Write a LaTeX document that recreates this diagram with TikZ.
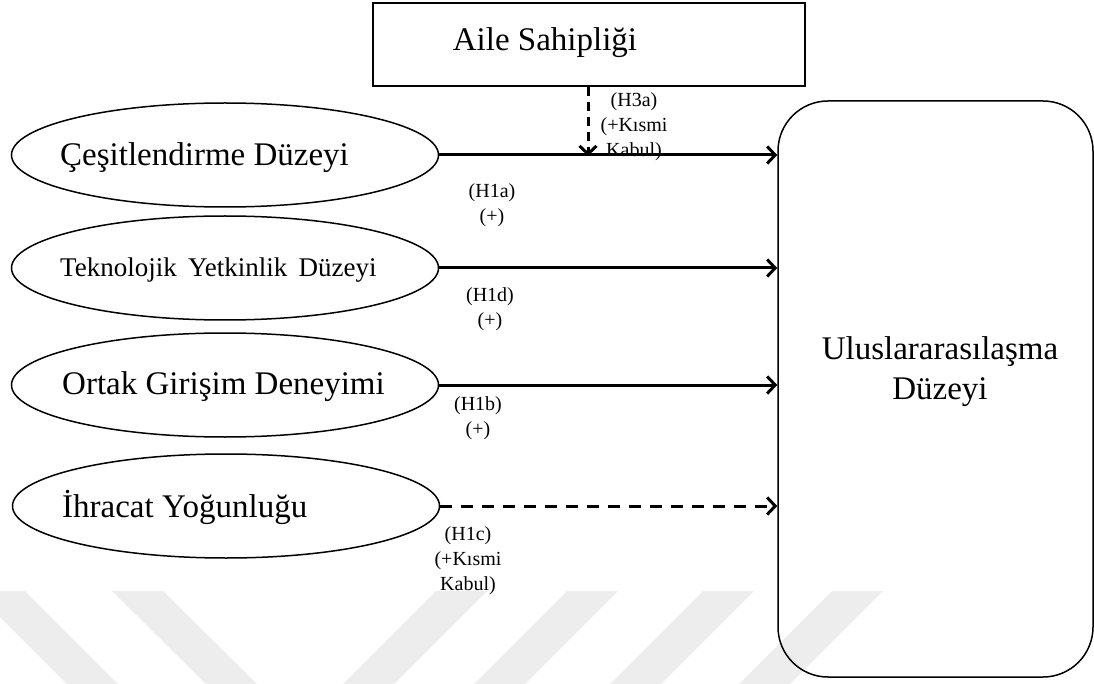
\documentclass[tikz,border=0pt]{standalone}
\usepackage{fontspec}
\setmainfont{Liberation Serif}
\usetikzlibrary{shapes.geometric,arrows.meta}

\begin{document}
\begin{tikzpicture}[x=1pt,y=-1pt,
  oval/.style={ellipse, draw, line width=1.5pt, minimum width=427pt, minimum height=104pt, inner sep=0pt},
  frame/.style={draw, line width=1.5pt, minimum width=432pt, minimum height=83pt, inner sep=0pt},
  big/.style={font=\fontsize{33}{40}\selectfont, inner sep=0pt},
  hyp/.style={align=center, font=\fontsize{20}{25}\selectfont, inner sep=0pt},
  link/.style={line width=3pt, -{Straight Barb[length=8pt,width=17pt]}},
  weak/.style={link, dash pattern=on 12pt off 9pt}]
\definecolor{stripe}{gray}{0.93}
\useasboundingbox (0,0) rectangle (1094,684);

% faint watermark
\begin{scope}
  \clip (0,0) rectangle (1094,684);
  \fill[stripe] (-26,591) -- (25,591) -- (118,684) -- (67,684) -- cycle;
  \fill[stripe] (112,591) -- (163,591) -- (257,684) -- (206,684) -- cycle;
  \foreach \x in {436,567,703,832}
    \fill[stripe] (\x,591) -- (\x+51,591) -- (\x-42,684) -- (\x-93,684) -- cycle;
\end{scope}

\node[frame] (aile) at (589,44.5) {};
\node[big] (ailetxt) at (545,43) {Aile Sahipliği};

\node[oval] (cesit) at (225,155) {};
\node[oval] (tekno) at (225,268) {};
\node[oval] (ortak) at (225,385) {};
\node[oval] (ihracat) at (226,506) {};
\node[big, anchor=west] (cesittxt) at (60,158) {Çeşitlendirme Düzeyi};
\node[big, anchor=west, font=\fontsize{27}{32}\selectfont] (teknotxt) at (60,270) {Teknolojik\, Yetkinlik\, Düzeyi};
\node[big, anchor=west] (ortaktxt) at (62,387) {Ortak Girişim Deneyimi};
\node[big, anchor=west] (ihracattxt) at (62,507) {İhracat Yoğunluğu};

\node[draw, line width=1.5pt, rounded corners=50pt, minimum width=315pt, minimum height=576pt] (ulus) at (935.5,389) {};
\node[big, align=center, font=\fontsize{33}{40}\selectfont] (ulustxt) at (940,372) {Uluslararasılaşma\\Düzeyi};

\draw[link] (cesit.east) -- (cesit.east -| ulus.west);
\draw[link] (tekno.east) -- (tekno.east -| ulus.west);
\draw[link] (ortak.east) -- (ortak.east -| ulus.west);
\draw[weak] (ihracat.east) -- (ihracat.east -| ulus.west);

\coordinate (mod) at (588,156);
\draw[link, dash pattern=on 9pt off 6pt] (mod |- aile.south) -- (mod);

\node[hyp] (h3a) at (634,127) {(H3a)\\(+Kısmi\\Kabul)};
\node[hyp] (h1a) at (492,205) {(H1a)\\(+)};
\node[hyp] (h1d) at (490,309) {(H1d)\\(+)};
\node[hyp] (h1b) at (478,418) {(H1b)\\(+)};
\node[hyp] (h1c) at (468,561) {(H1c)\\(+Kısmi\\Kabul)};
\end{tikzpicture}
\end{document}
